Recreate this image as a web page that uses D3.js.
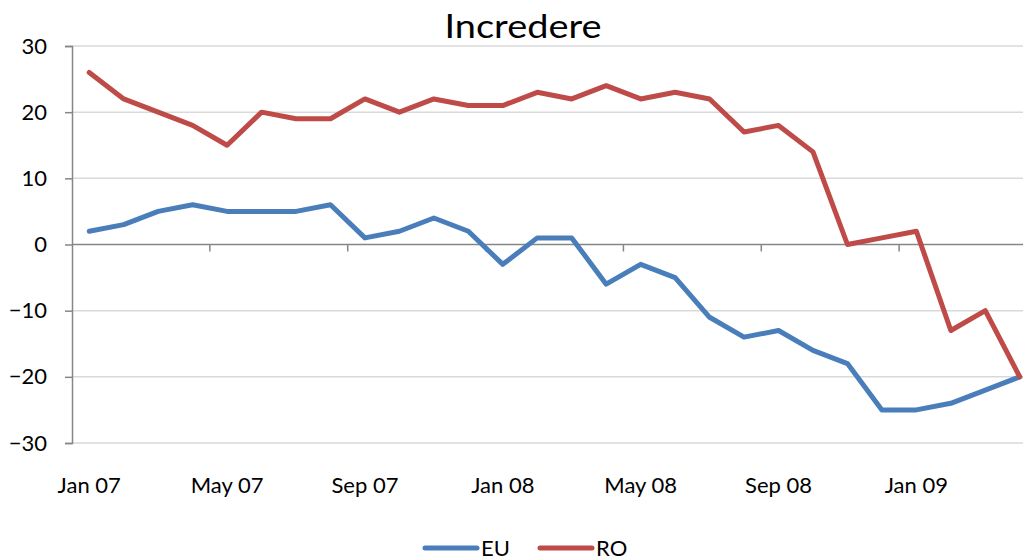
<!DOCTYPE html>
<html><head><meta charset="utf-8">
<script src="https://cdn.jsdelivr.net/npm/d3@7"></script>
<style>body{margin:0;background:#fff;}svg{display:block;font-family:Lato,"Open Sans",sans-serif;}</style>
</head><body>
<svg id="c" width="1023" height="560"></svg>
<script>
const months = ["Jan 07","Feb 07","Mar 07","Apr 07","May 07","Jun 07","Jul 07","Aug 07","Sep 07","Oct 07","Nov 07","Dec 07",
"Jan 08","Feb 08","Mar 08","Apr 08","May 08","Jun 08","Jul 08","Aug 08","Sep 08","Oct 08","Nov 08","Dec 08",
"Jan 09","Feb 09","Mar 09","Apr 09"];
const euValues = [2,3,5,6,5,5,5,6,1,2,4,2,-3,1,1,-6,-3,-5,-11,-14,-13,-16,-18,-25,-25,-24,-22,-20];
const roValues = [26,22,20,18,15,20,19,19,22,20,22,21,21,23,22,24,22,23,22,17,18,14,0,1,2,-13,-10,-20];
const yTicks = [-30,-20,-10,0,10,20,30];
const labelMonths = ["Jan 07","May 07","Sep 07","Jan 08","May 08","Sep 08","Jan 09"];
const seriesNames = ["EU","RO"];
const colors = ["#4a7ebb","#be4b48"];

const svg = d3.select("#c");
const x = d3.scalePoint().domain(months).range([72,1037]).padding(0.5);
const y = d3.scaleLinear().domain([-30,30]).range([443,46]);
const step = x.step();

// gridlines
svg.append("g").selectAll("line").data(yTicks.filter(d=>d!==0)).join("line")
  .attr("x1",72).attr("x2",1023).attr("y1",d=>y(d)).attr("y2",d=>y(d))
  .attr("stroke","#d9d9d9").attr("stroke-width",1.5);

// y axis
const yAxis = d3.axisLeft(y).tickValues(yTicks).tickSize(7).tickPadding(18).tickFormat(d3.format("d"));
const gy = svg.append("g").attr("transform","translate(72,0)").call(yAxis);
gy.select(".domain").attr("stroke","#868686").attr("stroke-width",1.5);
gy.selectAll(".tick line").attr("stroke","#868686").attr("stroke-width",1.5);
gy.selectAll("text").attr("font-size",22).attr("fill","#000").attr("font-family","Lato");

// x axis at zero
svg.append("line").attr("x1",72).attr("x2",1023).attr("y1",y(0)).attr("y2",y(0))
  .attr("stroke","#868686").attr("stroke-width",1.5);
const tickIdx = [4,8,12,16,20,24];
svg.append("g").selectAll("line").data(tickIdx).join("line")
  .attr("x1",i=>x(months[i])-step/2).attr("x2",i=>x(months[i])-step/2)
  .attr("y1",y(0)).attr("y2",y(0)+7).attr("stroke","#868686").attr("stroke-width",1.5);
svg.append("g").selectAll("text").data(labelMonths).join("text")
  .attr("x",d=>x(d)).attr("y",493).attr("text-anchor","middle")
  .attr("font-size",22).attr("fill","#000").text(d=>d);

// lines
const line = d3.line().x((d,i)=>x(months[i])).y(d=>y(d));
[euValues, roValues].forEach((vals,k)=>{
  svg.append("path").datum(vals).attr("d",line).attr("fill","none")
    .attr("stroke",colors[k]).attr("stroke-width",5).attr("stroke-linejoin","round").attr("stroke-linecap","round");
});

// title
svg.append("text").attr("x",523).attr("y",38).attr("text-anchor","middle")
  .attr("font-size",32).attr("fill","#000")
  .attr("textLength",157).attr("lengthAdjust","spacingAndGlyphs").text("Incredere");

// legend
const legX = [425,540];
seriesNames.forEach((n,k)=>{
  svg.append("line").attr("x1",legX[k]).attr("x2",legX[k]+52).attr("y1",548).attr("y2",548)
    .attr("stroke",colors[k]).attr("stroke-width",5).attr("stroke-linecap","round");
  svg.append("text").attr("x",legX[k]+56).attr("y",556).attr("font-size",22).attr("fill","#000").text(n);
});
</script>
</body></html>
